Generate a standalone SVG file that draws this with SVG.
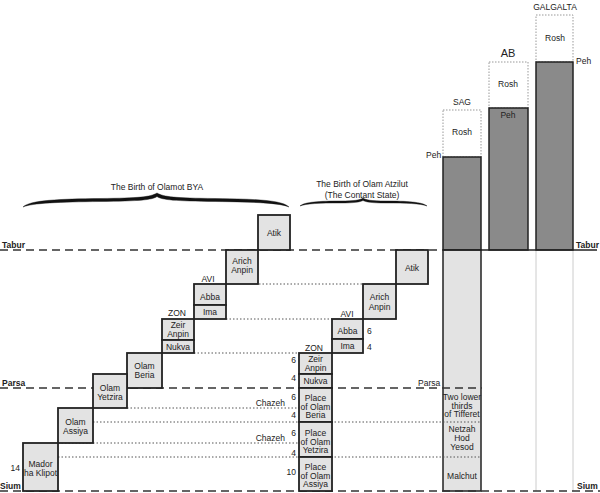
<svg xmlns="http://www.w3.org/2000/svg" width="600" height="493" viewBox="0 0 600 493">
<style>
text{font-family:"Liberation Sans",Arial,sans-serif;font-size:8.5px;fill:#222}
.c{text-anchor:middle}
.e{text-anchor:end}
.b{font-weight:bold}
.box{fill:#e3e3e3;stroke:#222;stroke-width:1.8}
.dark{fill:#8a8a8a;stroke:#222;stroke-width:1.5}
.rosh{fill:#fff;stroke:#999;stroke-width:1;stroke-dasharray:1.5 1.5}
.light{fill:#e3e3e3;stroke:#222;stroke-width:1.5}
.dash{stroke:#333;stroke-width:1.4;stroke-dasharray:8 5;fill:none}
.dot{stroke:#555;stroke-width:1;stroke-dasharray:1.5 2;fill:none}
.thin{stroke:#ccc;stroke-width:1;fill:none}
.brace{fill:#111;stroke:#111;stroke-width:0.4}
</style>
<rect width="600" height="493" fill="#fff"/>

<g id="partzufim">
  <g id="sag">
    <rect class="rosh" x="443" y="110" width="38" height="47"/>
    <rect class="dark" x="443" y="157" width="38" height="93"/>
    <text class="c" x="462" y="105">SAG</text>
    <text class="c" x="462" y="135">Rosh</text>
    <text x="426" y="158">Peh</text>
  </g>
  <g id="ab">
    <rect class="rosh" x="489" y="62" width="39" height="46"/>
    <rect class="dark" x="489" y="108" width="39" height="142"/>
    <text class="c" x="508" y="57" style="font-size:11px">AB</text>
    <text class="c" x="508" y="87">Rosh</text>
    <text class="c" x="508" y="118">Peh</text>
  </g>
  <g id="galgalta">
    <rect class="rosh" x="536" y="15" width="37" height="47"/>
    <rect class="dark" x="536" y="62" width="37" height="188"/>
    <line class="thin" x1="536" y1="251" x2="536" y2="491"/>
    <line class="thin" x1="573" y1="251" x2="573" y2="491"/>
    <text class="c" x="555" y="10">GALGALTA</text>
    <text class="c" x="555" y="41">Rosh</text>
    <text x="576" y="64">Peh</text>
  </g>
  <g id="sag-lower">
    <rect class="light" x="443" y="250" width="38" height="241"/>
  </g>
</g>

<g id="connectors">
  <line class="dash" x1="0" y1="250" x2="443" y2="250"/>
  <line x1="443" y1="250" x2="597" y2="250" stroke="#222" stroke-width="1.5"/>
  <line class="dash" x1="0" y1="388" x2="482" y2="388"/>
  <line class="dash" x1="0" y1="491" x2="600" y2="491"/>
  <line class="dot" x1="259" y1="284" x2="363" y2="284"/>
  <line class="dot" x1="226" y1="319" x2="332" y2="319"/>
  <line class="dot" x1="194" y1="353" x2="299" y2="353"/>
  <line class="dot" x1="127" y1="408" x2="299" y2="408"/>
  <line class="dot" x1="93" y1="422" x2="481" y2="422"/>
  <line class="dot" x1="58" y1="443" x2="299" y2="443"/>
  <line class="dot" x1="58" y1="457" x2="481" y2="457"/>
</g>

<g id="line-labels">
  <text class="b" x="2" y="248">Tabur</text>
  <text class="b" x="576" y="248">Tabur</text>
  <text class="b" x="2" y="386">Parsa</text>
  <text x="418" y="386">Parsa</text>
  <text class="b" x="0" y="489">Sium</text>
  <text class="b" x="577" y="489">Sium</text>
</g>

<g id="braces">
  <path class="brace" d="M23,207 C30,200 60,199 100,198.5 C140,198 150,197 157,193 C164,197 175,198 215,198.5 C255,199 282,200 289,207 C280,203 255,202 215,201.5 C175,201 162,200 157,196.5 C152,200 140,201 100,201.5 C60,202 32,203 23,207 Z"/>
  <text class="c" x="157" y="190">The Birth of Olamot BYA</text>
  <path class="brace" d="M300,206 C304,202 320,201 340,201 C355,201 360,200 363,198 C366,200 371,201 386,201 C406,201 423,202 427,206 C421,203.5 406,203 386,203 C371,203 366,202 363,200.5 C360,202 355,203 340,203 C320,203 306,203.5 300,206 Z"/>
  <text class="c" x="362" y="187">The Birth of Olam Atzilut</text>
  <text class="c" x="362" y="198">(The Contant State)</text>
</g>

<g id="bya-staircase">
  <g id="l-atik"><rect class="box" x="258" y="215" width="32" height="35"/><text class="c" x="274" y="236">Atik</text></g>
  <g id="l-arich"><rect class="box" x="226" y="250" width="32" height="34"/><text class="c" x="242" y="264">Arich</text><text class="c" x="242" y="273">Anpin</text></g>
  <text class="c" x="208" y="282">AVI</text>
  <g id="l-abba"><rect class="box" x="194" y="284" width="32" height="21"/><text class="c" x="210" y="300">Abba</text></g>
  <g id="l-ima"><rect class="box" x="194" y="305" width="32" height="14"/><text class="c" x="210" y="315">Ima</text></g>
  <text class="c" x="177" y="316">ZON</text>
  <g id="l-zeir"><rect class="box" x="162" y="319" width="32" height="21"/><text class="c" x="178" y="328">Zeir</text><text class="c" x="178" y="337">Anpin</text></g>
  <g id="l-nukva"><rect class="box" x="162" y="340" width="32" height="13"/><text class="c" x="178" y="350">Nukva</text></g>
  <g id="l-beria"><rect class="box" x="127" y="353" width="35" height="35"/><text class="c" x="144.5" y="369">Olam</text><text class="c" x="144.5" y="378">Beria</text></g>
  <g id="l-yetzira"><rect class="box" x="93" y="374" width="34" height="34"/><text class="c" x="110" y="391">Olam</text><text class="c" x="110" y="400">Yetzira</text></g>
  <g id="l-assiya"><rect class="box" x="58" y="408" width="35" height="35"/><text class="c" x="75.5" y="425">Olam</text><text class="c" x="75.5" y="434">Assiya</text></g>
  <g id="l-mador"><rect class="box" x="23" y="443" width="35" height="48"/><text class="c" x="40.5" y="467">Mador</text><text class="c" x="40.5" y="476">ha Klipot</text></g>
  <text class="e" x="20" y="471">14</text>
</g>

<g id="atzilut-staircase">
  <g id="m-atik"><rect class="box" x="396" y="250" width="32" height="34"/><text class="c" x="412" y="271">Atik</text></g>
  <g id="m-arich"><rect class="box" x="363" y="284" width="33" height="35"/><text class="c" x="379.5" y="300">Arich</text><text class="c" x="379.5" y="310">Anpin</text></g>
  <text class="c" x="347" y="317">AVI</text>
  <g id="m-abba"><rect class="box" x="332" y="319" width="31" height="20"/><text class="c" x="347.5" y="334">Abba</text></g>
  <g id="m-ima"><rect class="box" x="332" y="339" width="31" height="14"/><text class="c" x="347.5" y="349">Ima</text></g>
  <text x="367" y="334">6</text>
  <text x="367" y="350">4</text>
  <text class="c" x="314" y="351">ZON</text>
  <g id="m-zeir"><rect class="box" x="299" y="353" width="33" height="21"/><text class="c" x="315.5" y="362">Zeir</text><text class="c" x="315.5" y="371">Anpin</text></g>
  <g id="m-nukva"><rect class="box" x="299" y="374" width="33" height="14"/><text class="c" x="315.5" y="384">Nukva</text></g>
  <g id="m-beria"><rect class="box" x="299" y="388" width="33" height="34"/><text class="c" x="315.5" y="401">Place</text><text class="c" x="315.5" y="409.5">of Olam</text><text class="c" x="315.5" y="418">Beria</text></g>
  <g id="m-yetzira"><rect class="box" x="299" y="422" width="33" height="35"/><text class="c" x="315.5" y="436">Place</text><text class="c" x="315.5" y="444.5">of Olam</text><text class="c" x="315.5" y="453">Yetzira</text></g>
  <g id="m-assiya"><rect class="box" x="299" y="457" width="33" height="34"/><text class="c" x="315.5" y="470">Place</text><text class="c" x="315.5" y="478.5">of Olam</text><text class="c" x="315.5" y="487">Assiya</text></g>
  <text class="e" x="296" y="363">6</text>
  <text class="e" x="296" y="381">4</text>
  <text class="e" x="296" y="400">6</text>
  <text class="e" x="296" y="418">4</text>
  <text class="e" x="296" y="436">6</text>
  <text class="e" x="296" y="456">4</text>
  <text class="e" x="296" y="475">10</text>
  <text class="e" x="285" y="406">Chazeh</text>
  <text class="e" x="285" y="441">Chazeh</text>
</g>

<g id="sag-lower-labels">
  <text class="c" x="462" y="400">Two lower</text>
  <text class="c" x="462" y="408.5">thirds</text>
  <text class="c" x="462" y="417">of Tifferet</text>
  <text class="c" x="462" y="432">Netzah</text>
  <text class="c" x="462" y="441">Hod</text>
  <text class="c" x="462" y="450">Yesod</text>
  <text class="c" x="462" y="479">Malchut</text>
</g>
</svg>
